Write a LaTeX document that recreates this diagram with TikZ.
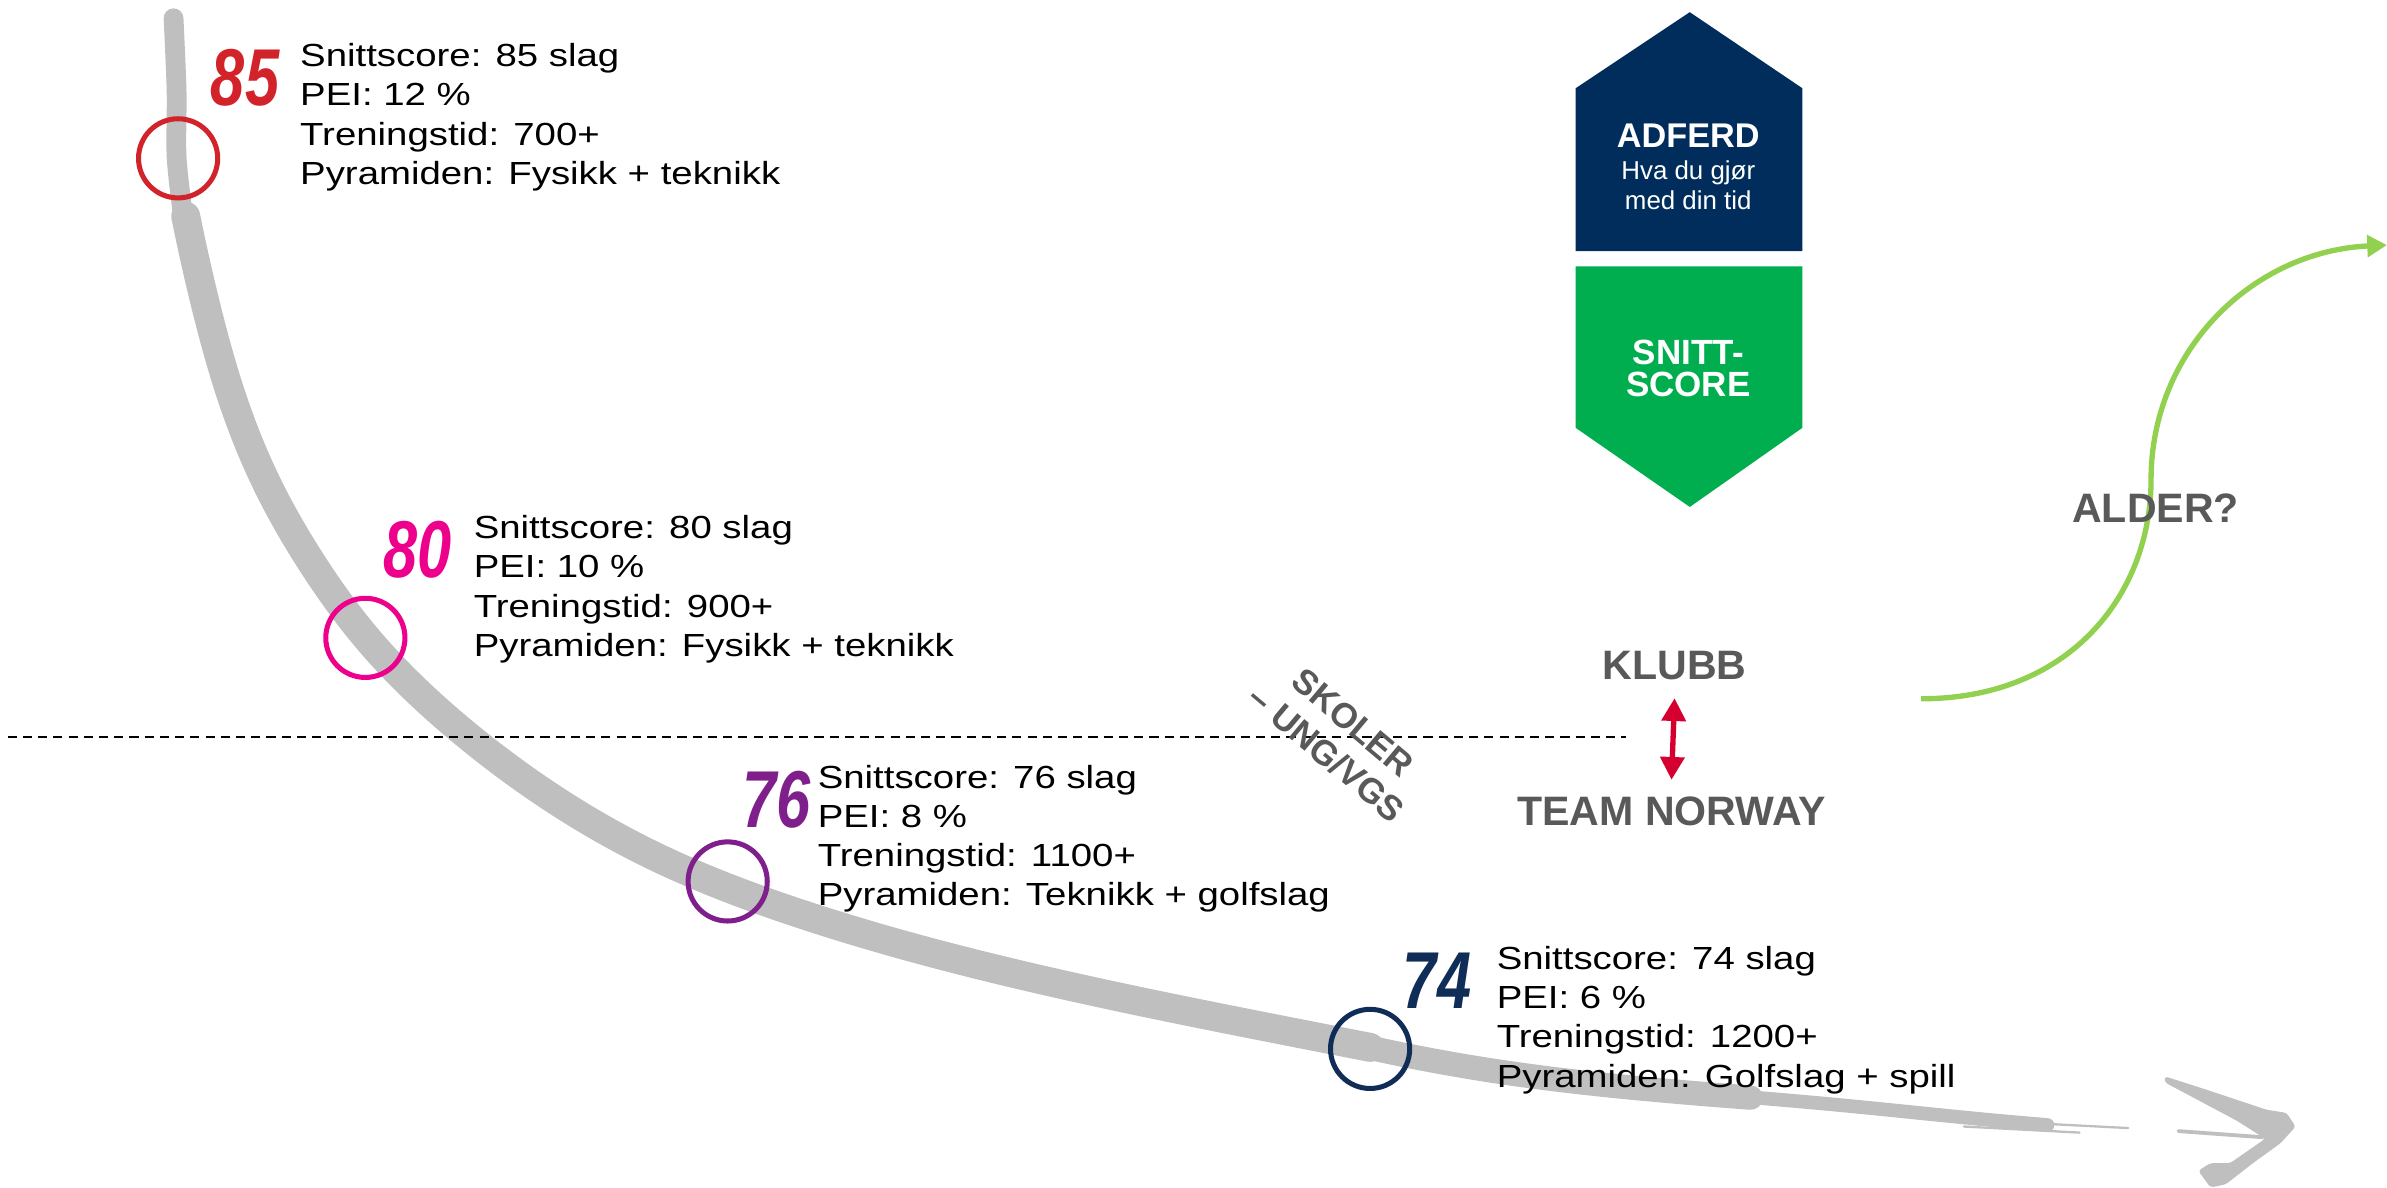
\documentclass[tikz,border=0pt]{standalone}
\usepackage{fontspec}
\setmainfont{Liberation Sans}
\newfontfamily\handfont[FakeStretch=1.2]{Liberation Sans}
\newfontfamily\brushfont[FakeStretch=0.76]{Liberation Sans}
\usetikzlibrary{arrows.meta, calc, hobby}

\definecolor{bandgray}{HTML}{BFBFBF}
\definecolor{score85}{HTML}{D2232A}
\definecolor{score80}{HTML}{EC008C}
\definecolor{score76}{HTML}{7F1F8C}
\definecolor{score74}{HTML}{102D58}
\definecolor{adferdblue}{HTML}{002D5B}
\definecolor{snittgreen}{HTML}{00AE50}
\definecolor{labelgray}{HTML}{595959}
\definecolor{agegreen}{HTML}{92D050}
\definecolor{klubbred}{HTML}{D5002F}

\tikzset{
    band/.style={bandgray, line cap=round, line join=round},
    ring/.style={line width=3.3pt},
    scorenum/.style={font=\brushfont\bfseries\itshape\fontsize{53}{53}\selectfont, inner sep=0pt},
    scoretext/.style={font=\handfont\fontsize{21}{25.8}\selectfont, align=left, anchor=west, inner sep=0pt},
    graylabel/.style={font=\bfseries\fontsize{27}{30}\selectfont, text=labelgray, inner sep=0pt},
    boxtext/.style={text=white, align=center, inner sep=0pt}
}

\begin{document}
\begin{tikzpicture}[x=1pt, y=-1pt]
            \useasboundingbox (0,0) rectangle (1568,780);

            % the grey brush stroke
            \draw[band, line width=13pt] plot[smooth] coordinates {(114,12) (116,60) (116,103) (120,140)};
            \draw[band, line width=19pt, use Hobby shortcut] (122,142) .. (135,200) .. (153,263) .. (174,315)
                .. (205,370) .. (240,418) .. (308,484) .. (427,561) .. (525,600) .. (690,645) .. (854,679) .. (900,688);
            \draw[band, line width=16pt, use Hobby shortcut] (890,686) .. (985,704) .. (1100,717) .. (1150,721);
            \draw[band, line width=9pt, use Hobby shortcut] (1140,720) .. (1220,727) .. (1300,735) .. (1345,739);
            \draw[band, line width=1.5pt] (1320,737) -- (1398,741);
            \draw[band, line width=1.5pt] (1290,740) -- (1366,744);
            \draw[band, line width=2.5pt] (1431,743) -- (1486,747);
            \fill[bandgray, rounded corners=2pt] (1422,707) -- (1450,716) -- (1489,729) -- (1502,731) -- (1508,740)
                -- (1498,751) -- (1480,764) -- (1462,778) -- (1452,780) -- (1444,769) -- (1452,764)
                -- (1465,764) -- (1488,748) -- (1469,736) -- (1422,711) -- cycle;

            \draw[dash pattern=on 6pt off 4pt, line width=1.2pt] (5,484) -- (1068,484);

            \coordinate (C85) at (117,104);
            \coordinate (C80) at (240,419);
            \coordinate (C76) at (478,579);
            \coordinate (C74) at (900,689);

            \draw[ring, score85] (C85) circle (26pt);
            \draw[ring, score80] (C80) circle (26pt);
            \draw[ring, score76] (C76) circle (26pt);
            \draw[ring, score74] (C74) circle (26pt);

            \node[scorenum, text=score85] (N85) at (161,51) {85};
            \node[scorenum, text=score80] (N80) at (274,361) {80};
            \node[scorenum, text=score76] (N76) at (510,525) {76};
            \node[scorenum, text=score74] (N74) at (944,644) {74};

            \node[scoretext] (T85) at (197,77) {Snittscore: 85 slag\\PEI: 12 \%\\Treningstid: 700+\\Pyramiden: Fysikk + teknikk};
            \node[scoretext] (T80) at (311,387) {Snittscore: 80 slag\\PEI: 10 \%\\Treningstid: 900+\\Pyramiden: Fysikk + teknikk};
            \node[scoretext] (T76) at (537,551) {Snittscore: 76 slag\\PEI: 8 \%\\Treningstid: 1100+\\Pyramiden: Teknikk + golfslag};
            \node[scoretext] (T74) at (983,670) {Snittscore: 74 slag\\PEI: 6 \%\\Treningstid: 1200+\\Pyramiden: Golfslag + spill};

            % behaviour and score boxes
            \fill[adferdblue] (1035,165) -- (1035,58) -- (1110,8) -- (1184,58) -- (1184,165) -- cycle;
            \fill[snittgreen] (1035,175) -- (1184,175) -- (1184,281) -- (1110,333) -- (1035,281) -- cycle;
            \node[boxtext, font=\bfseries\fontsize{22.5}{22.5}\selectfont] (adferd) at (1109,89) {ADFERD};
            \node[boxtext, font=\fontsize{17}{19.7}\selectfont] (hva) at (1109,122) {Hva du gjør\\med din tid};
            \node[boxtext, font=\bfseries\fontsize{23}{20.5}\selectfont] (snitt) at (1109,242) {SNITT-\\SCORE};

            \node[graylabel, rotate=-40, align=center, font=\bfseries\fontsize{23}{27}\selectfont] (skoler) at (880,485) {SKOLER\\– UNG/VGS};

            \node[graylabel] (klubb) at (1100,437) {KLUBB};
            \node[graylabel] (team) at (1098,533) {TEAM NORWAY};
            \draw[klubbred, line width=3.5pt, {Triangle[length=15pt,width=15.5pt]}-{Triangle[length=15pt,width=15.5pt]}]
                ([yshift=-12pt]klubb.south) -- ([yshift=11pt]team.north);

            % age curve
            \coordinate (agestart) at (1262,459);
            \coordinate (ageend) at (1568,161);
            \draw[agegreen, line width=3.5pt, -{Triangle[length=13pt,width=14pt]}]
                (agestart) .. controls (1360,459) and (1413,390) .. (1413,315)
                .. controls (1413,230) and (1480,165) .. (ageend);
            \node[graylabel] (alder) at (1416,334) {ALDER?};

        \end{tikzpicture}
\end{document}
